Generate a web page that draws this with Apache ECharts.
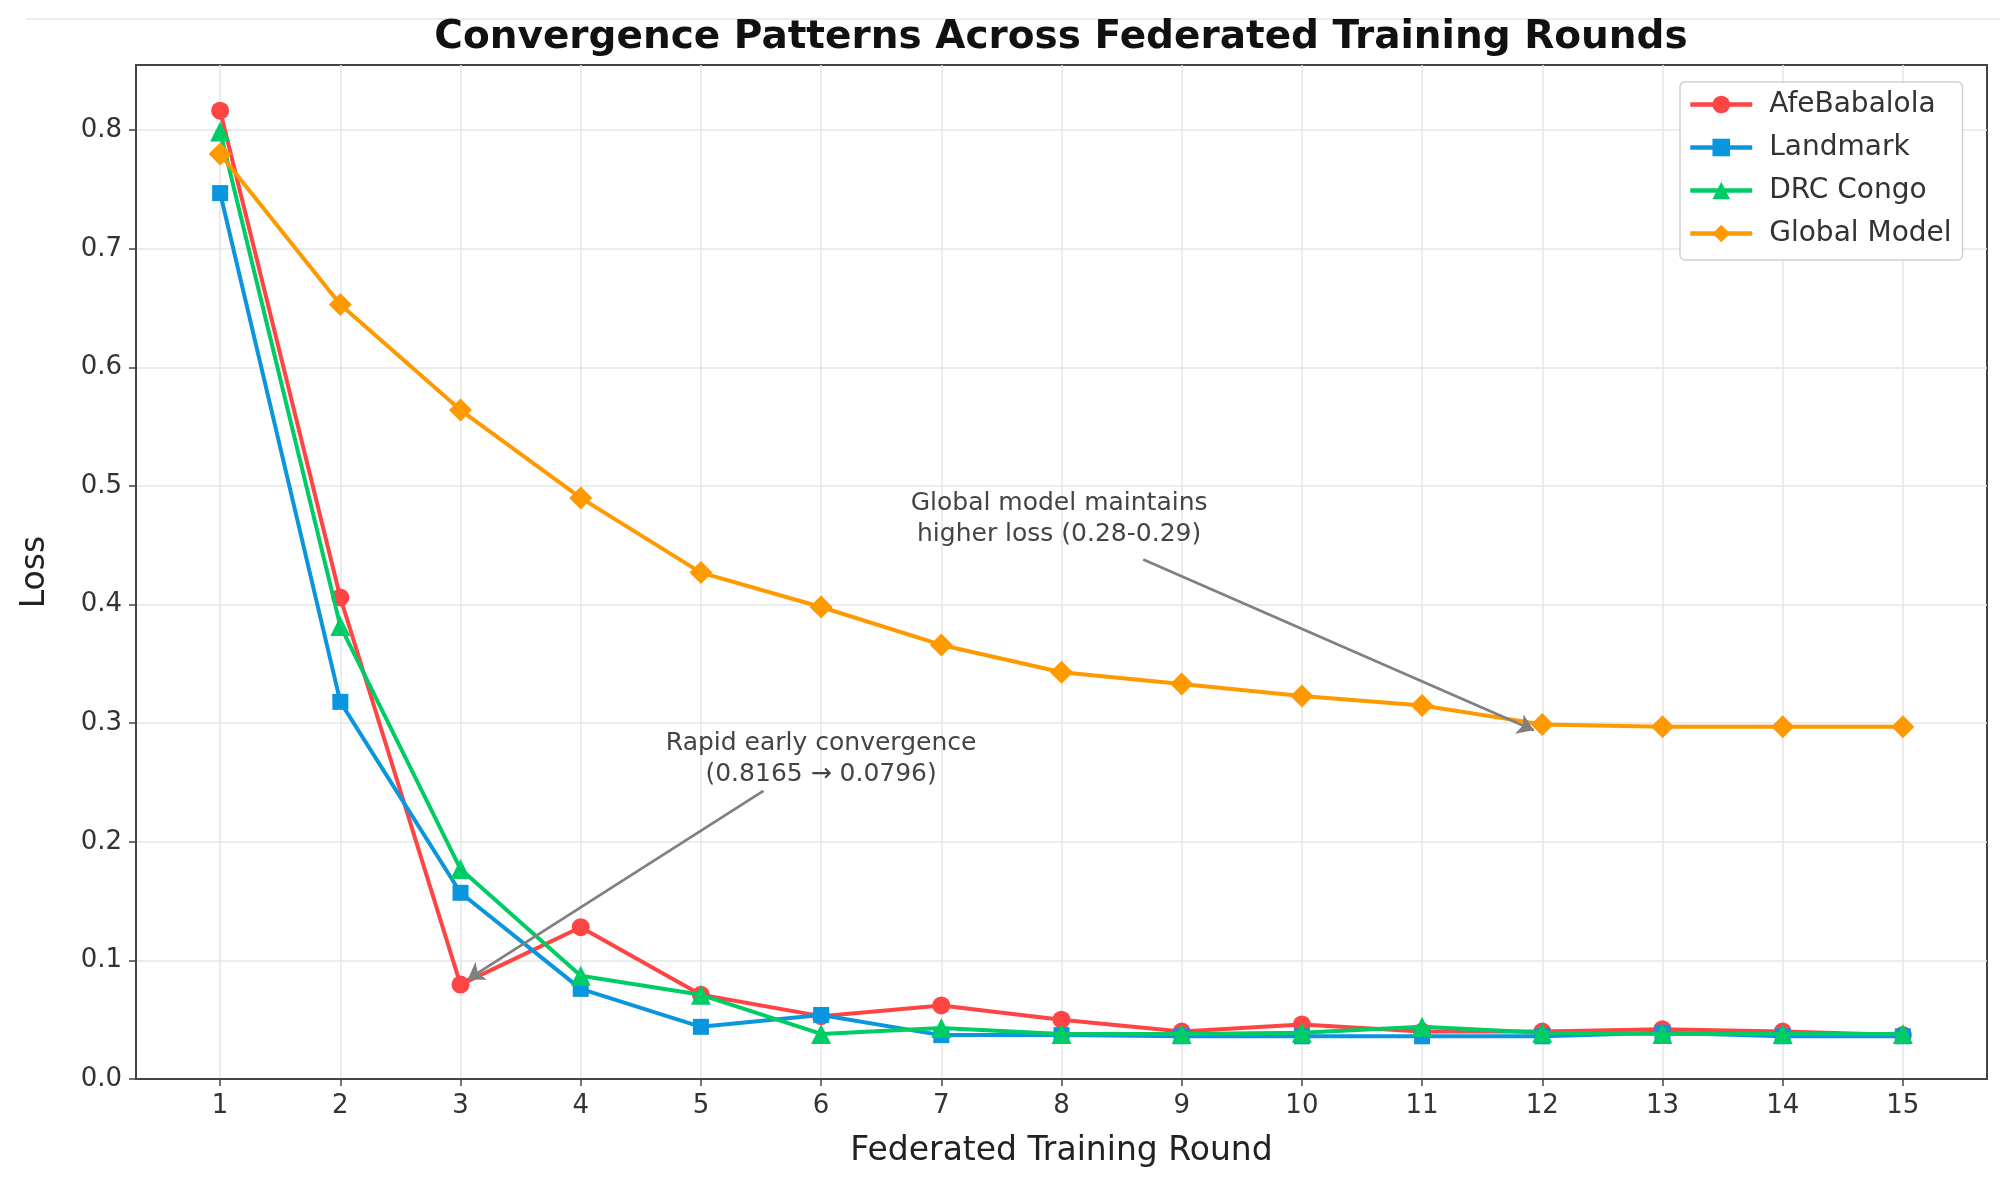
<!DOCTYPE html>
<html>
<head>
<meta charset="utf-8">
<script src="https://cdn.jsdelivr.net/npm/echarts@6/dist/echarts.min.js"></script>
<style>
html,body{margin:0;padding:0;background:#fff;}
#chart{width:2015px;height:1189px;}
</style>
</head>
<body>
<div id="chart"></div>
<script>
const rounds = [1,2,3,4,5,6,7,8,9,10,11,12,13,14,15];
const afeBabalola = [0.8165,0.406,0.0796,0.128,0.071,0.053,0.062,0.050,0.040,0.046,0.040,0.040,0.042,0.040,0.037];
const landmark    = [0.747,0.318,0.157,0.076,0.044,0.054,0.037,0.037,0.036,0.036,0.036,0.036,0.039,0.036,0.036];
const drcCongo    = [0.799,0.382,0.177,0.087,0.071,0.038,0.043,0.038,0.038,0.039,0.044,0.039,0.038,0.038,0.038];
const globalModel = [0.780,0.653,0.564,0.490,0.427,0.398,0.366,0.343,0.333,0.323,0.315,0.299,0.297,0.297,0.297];
const xTicks = rounds;
const yTicks = [0.0,0.1,0.2,0.3,0.4,0.5,0.6,0.7,0.8];
const seriesNames = ['AfeBabalola','Landmark','DRC Congo','Global Model'];
const colors = ['#FF4444','#0A96DE','#00CC66','#FF9900'];
const symbols = ['circle','rect','triangle','diamond'];
const symbolSizes = [18,16,20,23];
const annotRapid = {text:'Rapid early convergence\n(0.8165 → 0.0796)', textAt:[6.0,0.270], from:[5.52,0.243], to:[3.06,0.084]};
const annotGlobal = {text:'Global model maintains\nhigher loss (0.28-0.29)', textAt:[7.98,0.472], from:[8.68,0.438], to:[11.93,0.294]};

const FONT = 'DejaVu Sans';
const chart = echarts.init(document.getElementById('chart'), null, {renderer:'canvas'});
const allData = [afeBabalola, landmark, drcCongo, globalModel];

function annotation(a){
  return {
    markLine: {
      silent: true, animation: false, z: 20,
      symbol: ['none','arrow'], symbolSize: 16,
      lineStyle: {color:'#808080', width: 2.8, type:'solid'},
      itemStyle: {color:'#808080'},
      label: {show:false},
      data: [[{coord:a.from},{coord:a.to}]]
    },
    markPoint: {
      silent: true, animation: false,
      symbol: 'circle', symbolSize: 1,
      itemStyle: {color:'rgba(0,0,0,0)'},
      label: {show:true, position:'inside', formatter: a.text, color:'#444', fontFamily: FONT, fontSize: 25, lineHeight: 31, align:'center'},
      data: [{coord: a.textAt}]
    }
  };
}

const series = seriesNames.map((name,i)=>{
  const s = {
    name, type:'line',
    data: rounds.map((r,k)=>[r, allData[i][k]]),
    symbol: symbols[i], symbolSize: symbolSizes[i],
    showSymbol: true,
    lineStyle: {color: colors[i], width: 4},
    itemStyle: {color: colors[i]},
    animation: false,
    z: 2 + i
  };
  if (i === 0) Object.assign(s, annotation(annotRapid));
  if (i === 3) Object.assign(s, annotation(annotGlobal));
  return s;
});

chart.setOption({
  backgroundColor:'#fff',
  animation:false,
  title:{
    text:'Convergence Patterns Across Federated Training Rounds',
    left: 1061, top: 18, textAlign:'center', padding:0,
    textStyle:{fontFamily: FONT, fontWeight:'bold', fontSize:39, color:'#111'}
  },
  graphic:[{type:'line', shape:{x1:26,y1:19,x2:2000,y2:19}, style:{stroke:'#ececec', lineWidth:2}, silent:true}],
  legend:{
    data: seriesNames,
    orient:'vertical', left:1680, top:82,
    padding:[8,11,12,8],
    itemWidth:62, itemHeight:22, itemGap:14,
    lineStyle:{width:4.5},
    backgroundColor:'#fff', borderColor:'#d0d0d0', borderWidth:1.5, borderRadius:5,
    textStyle:{fontFamily:FONT, fontSize:28, color:'#333', lineHeight:29, padding:[0,0,0,12]}
  },
  grid:{left:136, right:28, top:65, bottom:110, show:true, borderColor:'#444', borderWidth:2, containLabel:false},
  xAxis:{
    type:'value', min:0.3, max:15.7,
    name:'Federated Training Round', nameLocation:'middle', nameGap:56,
    nameTextStyle:{fontFamily:FONT, fontSize:33, color:'#222'},
    axisLine:{show:true, lineStyle:{color:'#444', width:2}},
    axisTick:{show:true, length:7, lineStyle:{color:'#444', width:1.5}, customValues: xTicks},
    axisLabel:{fontFamily:FONT, fontSize:26, color:'#333', margin:14, customValues: xTicks},
    splitLine:{show:true, lineStyle:{color:'#e6e6e6', width:1.5}}
  },
  yAxis:{
    type:'value', min:0, max:0.855,
    name:'Loss', nameLocation:'middle', nameGap:84,
    nameTextStyle:{fontFamily:FONT, fontSize:33, color:'#222'},
    axisLine:{show:true, lineStyle:{color:'#444', width:2}},
    axisTick:{show:true, length:7, lineStyle:{color:'#444', width:1.5}, customValues: yTicks},
    axisLabel:{fontFamily:FONT, fontSize:26, color:'#333', margin:14, customValues: yTicks, formatter: v=>v.toFixed(1)},
    splitLine:{show:true, lineStyle:{color:'#e6e6e6', width:1.5}}
  },
  series
});
</script>
</body>
</html>
